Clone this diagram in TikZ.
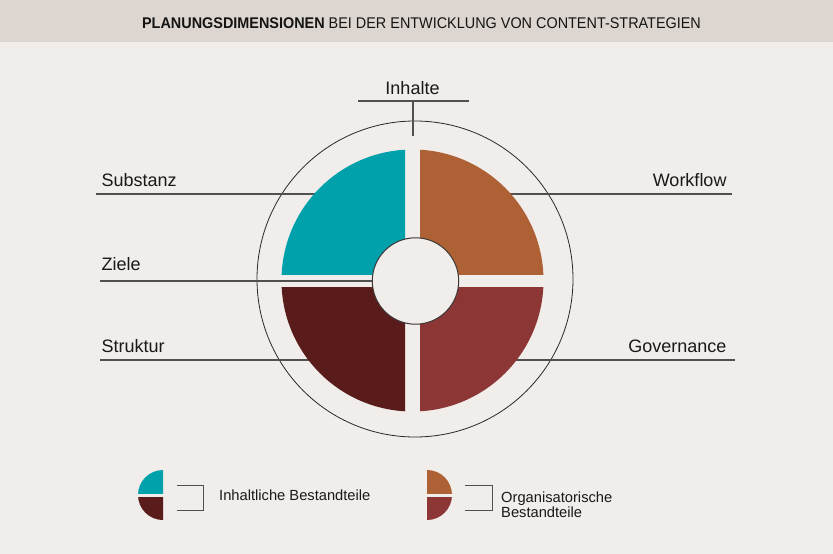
\documentclass[tikz,border=0pt]{standalone}
\usepackage{fontspec}
\setmainfont{Liberation Sans}
\newfontfamily\titlefont[FakeStretch=0.93]{Liberation Sans}
\usepackage{xcolor}
\usepackage{tikz}
\definecolor{bgbeige}{RGB}{241,237,234}
\definecolor{bannergray}{RGB}{221,214,208}
\definecolor{linegray}{RGB}{80,80,80}
\definecolor{quadteal}{RGB}{0,161,171}
\definecolor{quadorange}{RGB}{173,97,52}
\definecolor{quadmaroon}{RGB}{90,27,27}
\definecolor{quadred}{RGB}{140,54,53}

\begin{document}
\begin{tikzpicture}[x=1pt,y=1pt,yscale=-1,
  leader/.style={draw=linegray, line width=1.1pt},
  ringline/.style={draw={rgb,255:red,40;green,40;blue,40}, line width=0.8pt},
  hubline/.style={draw={rgb,255:red,60;green,55;blue,55}, line width=1pt, fill=bgbeige},
  label/.style={inner sep=0pt, text={rgb,255:red,25;green,25;blue,25}, font=\fontsize{18}{21}\selectfont},
  legendtext/.style={inner sep=0pt, text={rgb,255:red,25;green,25;blue,25}, font=\fontsize{14.7}{15}\selectfont, align=left}]

%Shape: Rectangle [background]
\fill [bgbeige] (0,0) rectangle (833,554) ;
\useasboundingbox (0,0) rectangle (833,554) ;
%Shape: Rectangle [banner]
\fill [bannergray] (0,0) rectangle (833,42) ;

% Text Node
\node (title) [anchor=base, inner sep=0pt, text={rgb,255:red,20;green,20;blue,20}, font=\titlefont\fontsize{15.5}{18}\selectfont] at (421.5,28.3) {\textbf{PLANUNGSDIMENSIONEN} BEI DER ENTWICKLUNG VON CONTENT-STRATEGIEN};

\coordinate (pie) at (412.5,280.5) ;
\coordinate (hub) at (415.5,281) ;

%Shape: Circle [outer ring]
\draw [ringline] (415,279) circle (158) ;

%Straight Lines [Inhalte]
\coordinate (inhalte-l) at (358,101) ;
\coordinate (inhalte-r) at (469,101) ;
\coordinate (inhalte-m) at (413,101) ;
\coordinate (inhalte-e) at (413,136) ;
\draw [leader] (inhalte-l) -- (inhalte-r) ;
\draw [leader] (inhalte-m) -- (inhalte-e) ;
%Straight Lines [Substanz]
\coordinate (substanz-a) at (96,194) ;
\coordinate (substanz-b) at (316,194) ;
\draw [leader] (substanz-a) -- (substanz-b) ;
%Straight Lines [Ziele]
\coordinate (ziele-a) at (100,281) ;
\coordinate (ziele-b) at (385,281) ;
\draw [leader] (ziele-a) -- (ziele-b) ;
%Straight Lines [Struktur]
\coordinate (struktur-a) at (100,360) ;
\coordinate (struktur-b) at (311,360) ;
\draw [leader] (struktur-a) -- (struktur-b) ;
%Straight Lines [Workflow]
\coordinate (workflow-a) at (510,194) ;
\coordinate (workflow-b) at (732,194) ;
\draw [leader] (workflow-a) -- (workflow-b) ;
%Straight Lines [Governance]
\coordinate (governance-a) at (515,360) ;
\coordinate (governance-b) at (735,360) ;
\draw [leader] (governance-a) -- (governance-b) ;

%Shape: Quarter [Substanz]
\begin{scope}
\clip (0,0) rectangle (405,274) ;
\fill [quadteal] (pie) circle (131) ;
\end{scope}
%Shape: Quarter [Workflow]
\begin{scope}
\clip (420,0) rectangle (833,274) ;
\fill [quadorange] (pie) circle (131) ;
\end{scope}
%Shape: Quarter [Struktur]
\begin{scope}
\clip (0,287) rectangle (405,554) ;
\fill [quadmaroon] (pie) circle (131) ;
\end{scope}
%Shape: Quarter [Governance]
\begin{scope}
\clip (420,287) rectangle (833,554) ;
\fill [quadred] (pie) circle (131) ;
\end{scope}
%Shape: Circle [hub]
\draw [hubline] (hub) circle (43.2) ;

% Text Node
\node (inhalte) [label, anchor=base] at (412.5,94.3) {Inhalte};
% Text Node
\node (substanz) [label, anchor=base west] at (101.5,186.7) {Substanz};
% Text Node
\node (ziele) [label, anchor=base west] at (101.5,270.7) {Ziele};
% Text Node
\node (struktur) [label, anchor=base west] at (101.5,352.7) {Struktur};
% Text Node
\node (workflow) [label, anchor=base east] at (726.7,186.7) {Workflow};
% Text Node
\node (governance) [label, anchor=base east] at (726.7,352.7) {Governance};

%Shape: Legend [inhaltlich]
\begin{scope}
\clip (120,460) rectangle (163,493) ;
\fill [quadteal] (163,495) circle (25) ;
\end{scope}
\begin{scope}
\clip (120,497) rectangle (163,530) ;
\fill [quadmaroon] (163,495) circle (25) ;
\end{scope}
\draw [leader, line width=0.9pt] (177,485) -- (203,485) -- (203,510) -- (177,510) ;
% Text Node
\node (inhaltlich) [legendtext, anchor=base west] at (219,500.7) {Inhaltliche Bestandteile};

%Shape: Legend [organisatorisch]
\begin{scope}
\clip (427,460) rectangle (470,493) ;
\fill [quadorange] (427,495) circle (25) ;
\end{scope}
\begin{scope}
\clip (427,497) rectangle (470,530) ;
\fill [quadred] (427,495) circle (25) ;
\end{scope}
\draw [leader, line width=0.9pt] (465,485) -- (492,485) -- (492,510) -- (465,510) ;
% Text Node
\node (organisatorisch) [legendtext, anchor=north west] at (501,491.8) {Organisatorische\\Bestandteile};

\end{tikzpicture}
\end{document}
